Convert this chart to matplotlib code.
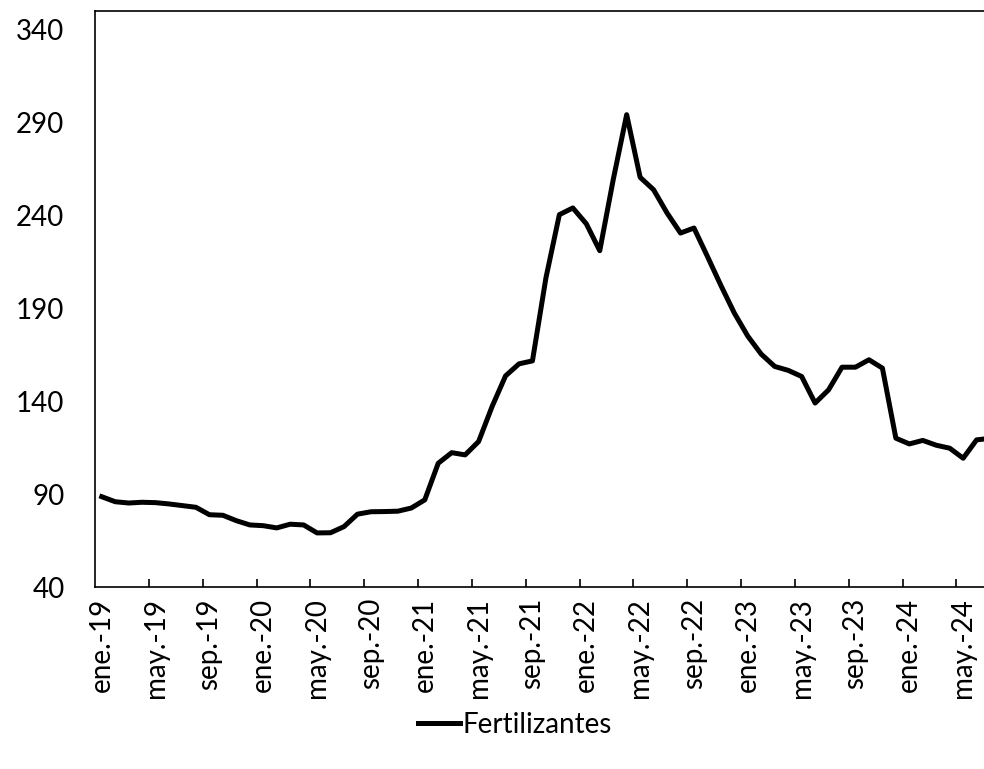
import numpy as np
import matplotlib
matplotlib.use('Agg')
import matplotlib.pyplot as plt
from matplotlib.ticker import FixedLocator

plt.rcParams["font.family"] = ["Lato", "DejaVu Sans"]

# indice mensual, ene-19 ... jul-24
series_name = 'Fertilizantes'
values = [
    88.6, 85.9, 85.2, 85.6, 85.4, 84.7, 83.8, 82.9, 78.9, 78.6, 75.7, 73.4,      # 2019
    73.0, 71.8, 73.8, 73.4, 69.1, 69.2, 72.5, 79.2, 80.5, 80.6, 80.8, 82.5,      # 2020
    86.9, 106.6, 112.3, 111.1, 118.3, 137.1, 153.6, 160.1, 161.7, 206.3, 240.4, 244.0,  # 2021
    235.5, 221.0, 259.2, 294.2, 260.5, 253.8, 241.3, 230.5, 233.2, 217.9, 202.3, 187.4,  # 2022
    175.0, 165.3, 158.7, 156.6, 153.3, 139.0, 146.1, 158.3, 158.3, 162.3, 157.8, 120.1,  # 2023
    117.0, 118.9, 116.3, 114.7, 109.3, 119.2, 120.0,                            # 2024
]
month_abbr = ['ene.', 'feb.', 'mar.', 'abr.', 'may.', 'jun.',
              'jul.', 'ago.', 'sep.', 'oct.', 'nov.', 'dic.']
years = ['19', '20', '21', '22', '23', '24']
labels = [f'{m}-{y}' for y in years for m in month_abbr][:len(values)]
y_ticks = [40, 90, 140, 190, 240, 290, 340]

W, H = 984, 769
fig = plt.figure(figsize=(W / 100, H / 100), dpi=100)
ax = fig.add_axes([95 / W, (H - 587) / H, (W - 95) / W, (587 - 11) / H])

x = np.arange(len(values))
line, = ax.plot(x, values, color='k', lw=3.6, solid_joinstyle='round', label=series_name)

ax.set_ylim(40, 350)
ax.set_yticks(y_ticks)
ax.tick_params(axis='y', length=0, pad=22, labelsize=20)

px_per_month = 13.46
ax.set_xlim(-0.5, -0.5 + (W - 95) / px_per_month)
label_idx = list(range(0, len(values) - 2, 4))
ax.set_xticks(label_idx)
ax.set_xticklabels([labels[i] for i in label_idx], rotation=90)
ax.tick_params(axis='x', which='major', length=0, pad=8, labelsize=20)
ax.xaxis.set_minor_locator(FixedLocator([i - 0.5 for i in label_idx[1:]]))
ax.tick_params(axis='x', which='minor', direction='in', length=6, width=1.2, color='k')

for side in ['left', 'bottom', 'top']:
    ax.spines[side].set_linewidth(1.2)
    ax.spines[side].set_color('k')
ax.spines['right'].set_visible(False)

fig.legend(handles=[line], loc='center', bbox_to_anchor=(515 / W, 1 - 725 / H),
           frameon=False, fontsize=20, handlelength=1.5, handletextpad=0.1)

fig.savefig('out.png', dpi=100)
